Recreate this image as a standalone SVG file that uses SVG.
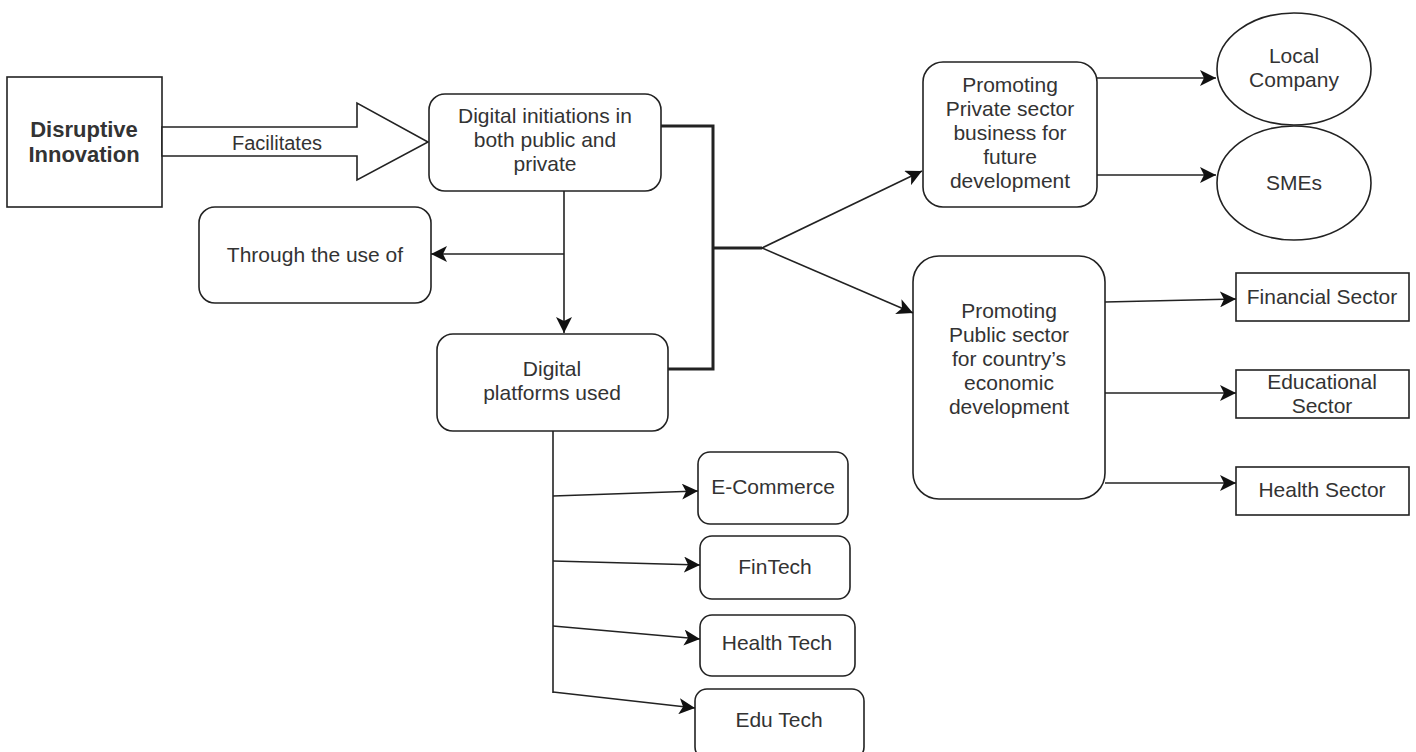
<svg xmlns="http://www.w3.org/2000/svg" width="1416" height="752" viewBox="0 0 1416 752">
<style>
.box{fill:#fff;stroke:#222;stroke-width:1.6}
.t{font-family:"Liberation Sans",Arial,sans-serif;font-size:21px;fill:#333;text-anchor:middle}
.b{font-weight:bold}
.c{fill:none;stroke:#222;stroke-width:1.6}
.k{fill:none;stroke:#222;stroke-width:3}
</style>
<defs>
<marker id="ah" markerUnits="userSpaceOnUse" markerWidth="18" markerHeight="16" refX="16" refY="8" orient="auto">
<path d="M0,0 L16,8 L0,16 L4,8 z" fill="#111"/>
</marker>
</defs>
<rect width="1416" height="752" fill="#fff"/>

<g id="disruptive">
<rect class="box" x="7" y="77" width="155" height="130"/>
<text class="t b" x="84" y="137" style="font-size:22px">Disruptive</text>
<text class="t b" x="84" y="162" style="font-size:22px">Innovation</text>
</g>

<g id="facilitates-arrow">
<polygon class="box" points="162,127 357,127 357,103 428,142 357,180 357,156 162,156"/>
<text class="t" x="277" y="150" style="font-size:20px">Facilitates</text>
</g>

<g id="digital-initiations">
<rect class="box" x="429" y="94" width="232" height="97" rx="16"/>
<text class="t" x="545" y="123">Digital initiations in</text>
<text class="t" x="545" y="147">both public and</text>
<text class="t" x="545" y="171">private</text>
</g>

<g id="through">
<rect class="box" x="199" y="207" width="232" height="96" rx="16"/>
<text class="t" x="315" y="262">Through the use of</text>
</g>

<g id="digital-platforms">
<rect class="box" x="437" y="334" width="231" height="97" rx="16"/>
<text class="t" x="552" y="376">Digital</text>
<text class="t" x="552" y="400">platforms used</text>
</g>

<g id="promoting-private">
<rect class="box" x="923" y="62" width="174" height="145" rx="20"/>
<text class="t" x="1010" y="92">Promoting</text>
<text class="t" x="1010" y="116">Private sector</text>
<text class="t" x="1010" y="140">business for</text>
<text class="t" x="1010" y="164">future</text>
<text class="t" x="1010" y="188">development</text>
</g>

<g id="local-company">
<ellipse class="box" cx="1294" cy="69" rx="77" ry="56"/>
<text class="t" x="1294" y="63">Local</text>
<text class="t" x="1294" y="87">Company</text>
</g>

<g id="smes">
<ellipse class="box" cx="1294" cy="183" rx="77" ry="57"/>
<text class="t" x="1294" y="190">SMEs</text>
</g>

<g id="promoting-public">
<rect class="box" x="913" y="256" width="192" height="243" rx="26"/>
<text class="t" x="1009" y="318">Promoting</text>
<text class="t" x="1009" y="342">Public sector</text>
<text class="t" x="1009" y="366">for country’s</text>
<text class="t" x="1009" y="390">economic</text>
<text class="t" x="1009" y="414">development</text>
</g>

<g id="financial">
<rect class="box" x="1236" y="273" width="173" height="48"/>
<text class="t" x="1322" y="304">Financial Sector</text>
</g>

<g id="educational">
<rect class="box" x="1236" y="370" width="173" height="48"/>
<text class="t" x="1322" y="389">Educational</text>
<text class="t" x="1322" y="413">Sector</text>
</g>

<g id="health-sector">
<rect class="box" x="1236" y="467" width="173" height="48"/>
<text class="t" x="1322" y="497">Health Sector</text>
</g>

<g id="ecommerce">
<rect class="box" x="698" y="452" width="150" height="72" rx="12"/>
<text class="t" x="773" y="494">E-Commerce</text>
</g>

<g id="fintech">
<rect class="box" x="700" y="536" width="150" height="63" rx="12"/>
<text class="t" x="775" y="574">FinTech</text>
</g>

<g id="healthtech">
<rect class="box" x="700" y="615" width="155" height="61" rx="12"/>
<text class="t" x="777" y="650">Health Tech</text>
</g>

<g id="edutech">
<rect class="box" x="695" y="689" width="169" height="70" rx="12"/>
<text class="t" x="779" y="727">Edu Tech</text>
</g>

<g id="connectors">
<path class="c" d="M564,191 V333" marker-end="url(#ah)"/>
<path class="c" d="M564,254 H431" marker-end="url(#ah)"/>
<path class="k" d="M661,126 H713 V369 H668"/>
<path class="k" d="M713,248 H762"/>
<path class="c" d="M762,248 L922,171" marker-end="url(#ah)"/>
<path class="c" d="M762,248 L913,313" marker-end="url(#ah)"/>
<path class="c" d="M1097,78 H1216" marker-end="url(#ah)"/>
<path class="c" d="M1097,175 H1216" marker-end="url(#ah)"/>
<path class="c" d="M1105,302 L1236,299" marker-end="url(#ah)"/>
<path class="c" d="M1105,393 H1236" marker-end="url(#ah)"/>
<path class="c" d="M1105,483 H1236" marker-end="url(#ah)"/>
<path class="c" d="M553,431 V693"/>
<path class="c" d="M553,496 L698,491" marker-end="url(#ah)"/>
<path class="c" d="M553,561 L700,565" marker-end="url(#ah)"/>
<path class="c" d="M553,626 L700,639" marker-end="url(#ah)"/>
<path class="c" d="M553,692 L695,708" marker-end="url(#ah)"/>
</g>
</svg>
